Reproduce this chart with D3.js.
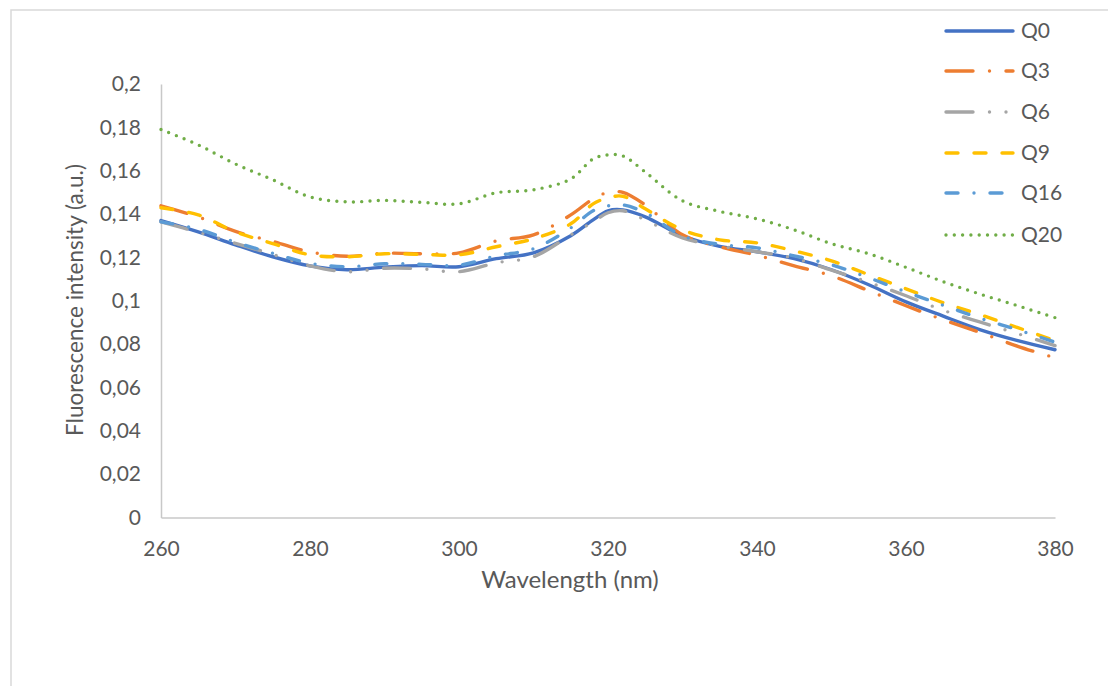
<!DOCTYPE html>
<html>
<head>
<meta charset="utf-8">
<script src="https://cdn.jsdelivr.net/npm/d3@7"></script>
<style>
  html, body { margin: 0; padding: 0; background: #fff; }
  svg { display: block; }
  text { font-family: Lato, "Open Sans", sans-serif; fill: #595959; }
</style>
</head>
<body>
<svg id="chart" width="1108" height="686"></svg>
<script>
const wavelengths = [260,265,270,275,280,285,290,295,300,305,310,315,318,320,322,325,330,335,340,345,350,355,360,365,370,375,380];
const seriesNames = ["Q0","Q3","Q6","Q9","Q16","Q20"];
const Q0  = [0.137,0.1318,0.1258,0.1203,0.1161,0.1143,0.1155,0.1162,0.1157,0.1194,0.1221,0.130,0.1373,0.1415,0.1419,0.1387,0.130,0.1251,0.1226,0.1194,0.1143,0.1074,0.0995,0.0929,0.0866,0.0816,0.0774];
const Q3  = [0.1438,0.1387,0.132,0.1274,0.1225,0.1205,0.1219,0.1217,0.1221,0.1276,0.1304,0.1396,0.147,0.150,0.150,0.1442,0.1304,0.1249,0.121,0.1161,0.1115,0.1046,0.0977,0.0912,0.0853,0.079,0.0737];
const Q6  = [0.1364,0.1316,0.1265,0.1214,0.1161,0.1134,0.115,0.1147,0.1134,0.1175,0.1203,0.1304,0.1364,0.1406,0.1415,0.1373,0.129,0.1253,0.1226,0.1196,0.1141,0.1085,0.1023,0.0956,0.0901,0.0848,0.0793];
const Q9  = [0.1429,0.1396,0.1318,0.1264,0.1212,0.1203,0.1217,0.1214,0.1212,0.1249,0.1286,0.1355,0.1447,0.1475,0.1482,0.1424,0.1327,0.1281,0.1267,0.123,0.1184,0.112,0.1055,0.0991,0.0935,0.0876,0.0816];
const Q16 = [0.1364,0.133,0.127,0.1219,0.1173,0.1157,0.1171,0.1168,0.1164,0.1207,0.124,0.1336,0.1415,0.1438,0.1442,0.1406,0.130,0.126,0.1244,0.1207,0.1166,0.1106,0.1041,0.0979,0.0919,0.0866,0.0809];
const Q20 = [0.179,0.1719,0.1631,0.1558,0.1479,0.1456,0.1463,0.1454,0.1447,0.1498,0.1512,0.1562,0.1654,0.1673,0.1668,0.1594,0.1461,0.1412,0.1378,0.1327,0.1263,0.1217,0.1154,0.1088,0.103,0.0977,0.0922];
const xTicks = [260,280,300,320,340,360,380];
const yTicks = [0,0.02,0.04,0.06,0.08,0.1,0.12,0.14,0.16,0.18,0.2];
const yTickLabels = ["0","0,02","0,04","0,06","0,08","0,1","0,12","0,14","0,16","0,18","0,2"];
const xTitle = "Wavelength (nm)";
const yTitle = "Fluorescence intensity (a.u.)";

const seriesValues = [Q0,Q3,Q6,Q9,Q16,Q20];
const styles = [
  {color:"#4472C4", dash:null},
  {color:"#ED7D31", dash:"27,16.5,0,16.5"},
  {color:"#A5A5A5", dash:"27,16.5,0,16.5,0,16.5"},
  {color:"#FFC000", dash:"12,16"},
  {color:"#5B9BD5", dash:"12,16,0,16"},
  {color:"#70AD47", dash:"0,8.3"}
];

const svg = d3.select("#chart");
// outer chart border
svg.append("rect").attr("x",11).attr("y",10).attr("width",1200).attr("height",800)
  .attr("fill","none").attr("stroke","#D9D9D9").attr("stroke-width",1.5);

const x = d3.scaleLinear().domain([260,380]).range([161,1055]);
const y = d3.scaleLinear().domain([0,0.2]).range([517.5,84]);

// axes
const xAxis = d3.axisBottom(x).tickValues(xTicks).tickSize(0).tickPadding(24).tickFormat(d3.format("d"));
const gx = svg.append("g").attr("transform",`translate(0,${y(0)})`).call(xAxis);
gx.select(".domain").attr("stroke","#C8C8C8").attr("stroke-width",1.5);
gx.selectAll("text").style("font-size","21px").attr("fill","#595959").attr("dy","0.3em").attr("y",32);

const yAxis = d3.axisLeft(y).tickValues(yTicks).tickSize(0).tickPadding(20).tickFormat((d,i)=>yTickLabels[i]);
const gy = svg.append("g").attr("transform",`translate(${x(260)},0)`).call(yAxis);
gy.select(".domain").attr("stroke","#C8C8C8").attr("stroke-width",1.5);
gy.selectAll("text").style("font-size","21px").attr("fill","#595959");

svg.append("text").attr("x",570).attr("y",588).attr("text-anchor","middle")
  .style("font-size","24px").text(xTitle);
svg.append("text").attr("transform","translate(83,300) rotate(-90)").attr("text-anchor","middle")
  .style("font-size","22.5px").text(yTitle);

const line = d3.line().x(d=>x(d[0])).y(d=>y(d[1])).curve(d3.curveCatmullRom.alpha(0.5));

seriesValues.forEach((vals,i)=>{
  const pts = wavelengths.map((w,j)=>[w,vals[j]]);
  svg.append("path").datum(pts).attr("d",line)
    .attr("fill","none").attr("stroke",styles[i].color).attr("stroke-width",3.4)
    .attr("stroke-linecap","round").attr("stroke-linejoin","round")
    .attr("stroke-dasharray",styles[i].dash);
});

// legend
const legendY = [31,71,112,153,193,235];
const lg = svg.append("g");
seriesNames.forEach((name,i)=>{
  lg.append("line").attr("x1",946).attr("x2",1013).attr("y1",legendY[i]).attr("y2",legendY[i])
    .attr("stroke",styles[i].color).attr("stroke-width",3.4).attr("stroke-linecap","round")
    .attr("stroke-dasharray",styles[i].dash);
  lg.append("text").attr("x",1021).attr("y",legendY[i]).attr("dy","0.35em")
    .style("font-size","21px").text(name);
});
</script>
</body>
</html>
